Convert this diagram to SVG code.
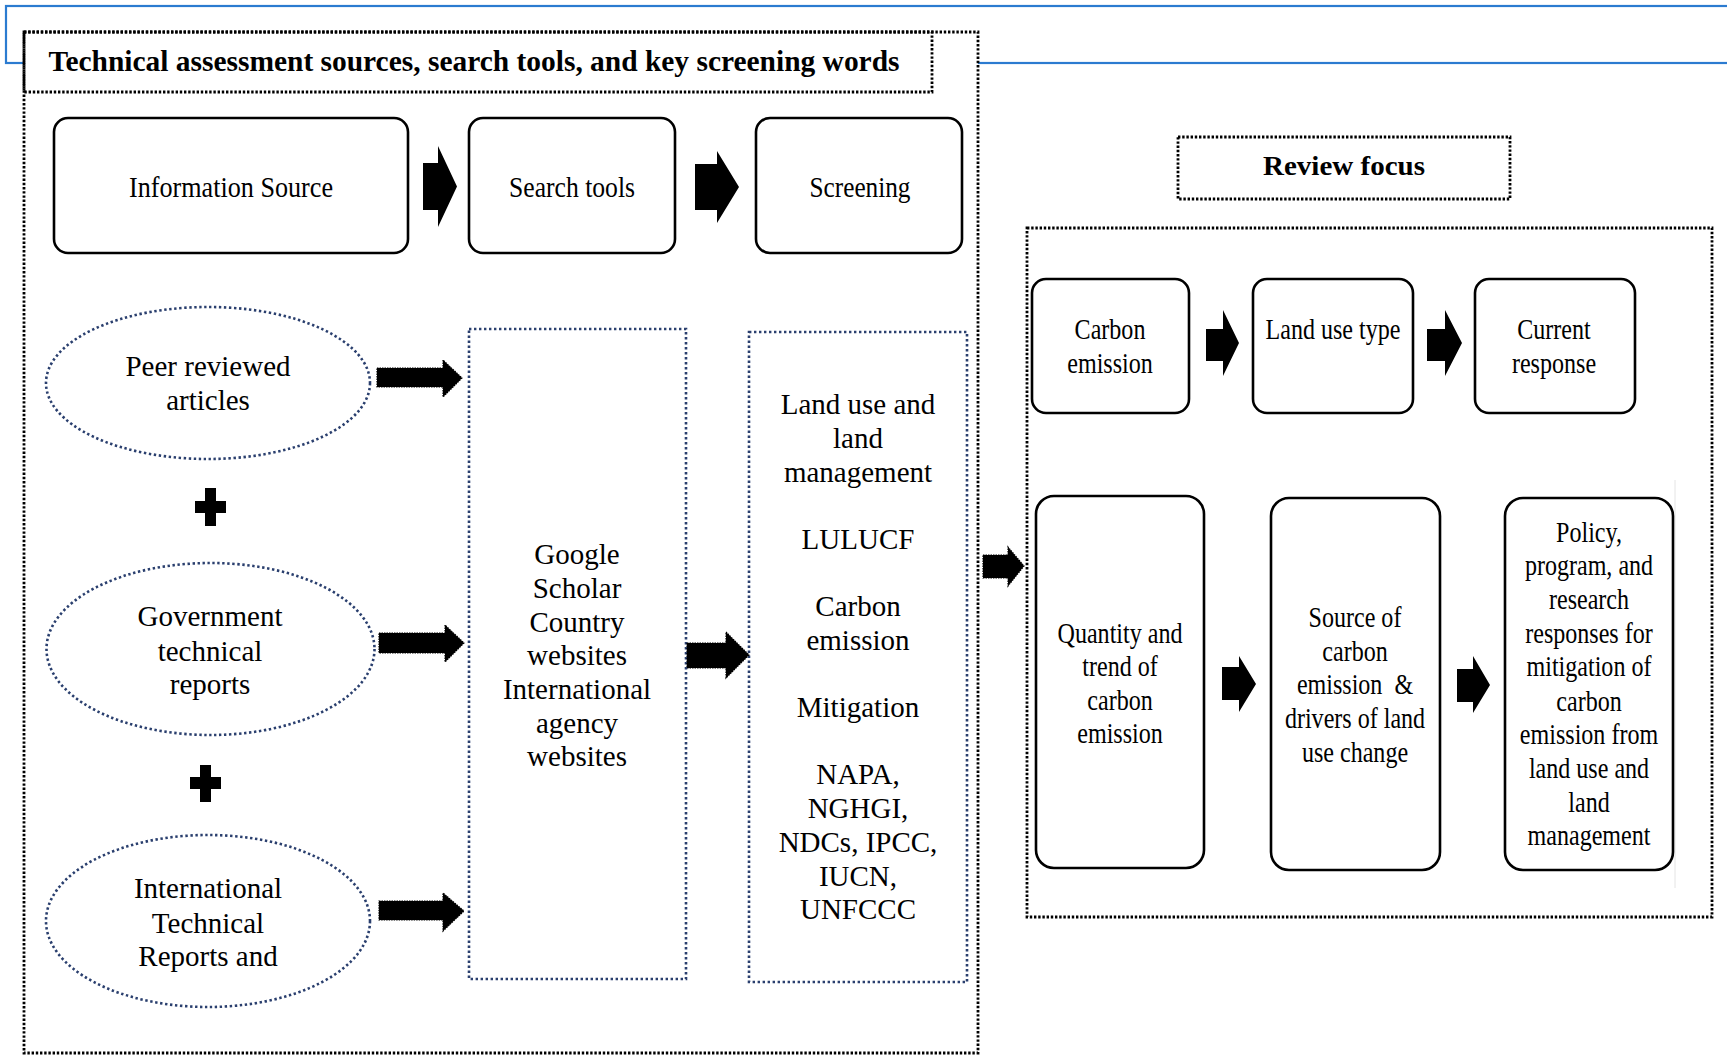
<svg xmlns="http://www.w3.org/2000/svg" width="1727" height="1056" viewBox="0 0 1727 1056">
<style>
.bg{fill:#fff}
.blue{fill:none;stroke:#2b7bd0;stroke-width:2.2}
.dotbk{fill:#fff;stroke:#000;stroke-width:2.8;stroke-dasharray:2.4 1.8}
.dotbk2{fill:none;stroke:#000;stroke-width:2.8;stroke-dasharray:2.4 1.8}
.dotnv{fill:none;stroke:#2a3f6e;stroke-width:2.6;stroke-dasharray:2.4 2.6}
.rbox{fill:#fff;stroke:#000;stroke-width:2.6}
.t{font-family:"Liberation Serif","Times New Roman",serif;font-size:29px;fill:#000;text-anchor:middle}
.tb{font-family:"Liberation Serif","Times New Roman",serif;font-weight:bold;fill:#000;text-anchor:middle}
.tc{font-family:"Liberation Serif","Times New Roman",serif;font-size:29px;fill:#000;text-anchor:middle}
.arr{fill:#000}
.darr{fill:#000;stroke:#000;stroke-width:1.2;stroke-dasharray:1.5 1}
</style>
<rect class="bg" x="0" y="0" width="1727" height="1056"/>
<rect class="blue" x="6" y="6" width="1740" height="57"/>

<g id="left-panel">
  <rect class="dotbk" x="24" y="32" width="954" height="1021"/>
</g>
<g id="title-left">
  <rect class="dotbk2" x="24" y="32" width="908" height="60"/>
  <text class="tb" x="474" y="71" font-size="29.5" textLength="851" lengthAdjust="spacingAndGlyphs">Technical assessment sources, search tools, and key screening words</text>
</g>

<g id="info-source">
  <rect class="rbox" x="54" y="118" width="354" height="135" rx="14"/>
  <text class="tc" x="231" y="197" font-size="31" textLength="204" lengthAdjust="spacingAndGlyphs">Information Source</text>
</g>
<g id="search-tools">
  <rect class="rbox" x="469" y="118" width="206" height="135" rx="14"/>
  <text class="tc" x="572" y="197" font-size="31" textLength="126" lengthAdjust="spacingAndGlyphs">Search tools</text>
</g>
<g id="screening">
  <rect class="rbox" x="756" y="118" width="206" height="135" rx="14"/>
  <text class="tc" x="860" y="197" font-size="31" textLength="101" lengthAdjust="spacingAndGlyphs">Screening</text>
</g>

<g id="peer-reviewed">
  <ellipse class="dotnv" cx="208" cy="383" rx="162" ry="76"/>
  <text class="t" x="208" y="376">Peer reviewed</text>
  <text class="t" x="208" y="410">articles</text>
</g>
<g id="plus-1">
  <rect class="arr" x="205" y="488" width="11" height="38"/>
  <rect class="arr" x="195" y="501" width="31" height="12"/>
</g>
<g id="gov-reports">
  <ellipse class="dotnv" cx="210.5" cy="649" rx="164" ry="86"/>
  <text class="t" x="210" y="626">Government</text>
  <text class="t" x="210" y="661">technical</text>
  <text class="t" x="210" y="694">reports</text>
</g>
<g id="plus-2">
  <rect class="arr" x="200" y="765" width="11" height="37"/>
  <rect class="arr" x="190" y="777" width="31" height="12"/>
</g>
<g id="intl-reports">
  <ellipse class="dotnv" cx="208" cy="921" rx="162" ry="86"/>
  <text class="t" x="208" y="898">International</text>
  <text class="t" x="208" y="933">Technical</text>
  <text class="t" x="208" y="966">Reports and</text>
</g>

<g id="search-list">
  <rect class="dotnv" x="469" y="329" width="217" height="650"/>
  <text class="t" x="577" y="564">Google</text>
  <text class="t" x="577" y="598">Scholar</text>
  <text class="t" x="577" y="632">Country</text>
  <text class="t" x="577" y="665">websites</text>
  <text class="t" x="577" y="699">International</text>
  <text class="t" x="577" y="733">agency</text>
  <text class="t" x="577" y="766">websites</text>
</g>
<g id="screening-list">
  <rect class="dotnv" x="749" y="332" width="218" height="650"/>
  <text class="t" x="858" y="414">Land use and</text>
  <text class="t" x="858" y="448">land</text>
  <text class="t" x="858" y="482">management</text>
  <text class="t" x="858" y="549">LULUCF</text>
  <text class="t" x="858" y="616">Carbon</text>
  <text class="t" x="858" y="650">emission</text>
  <text class="t" x="858" y="717">Mitigation</text>
  <text class="t" x="858" y="784">NAPA,</text>
  <text class="t" x="858" y="818">NGHGI,</text>
  <text class="t" x="858" y="852">NDCs, IPCC,</text>
  <text class="t" x="858" y="886">IUCN,</text>
  <text class="t" x="858" y="919">UNFCCC</text>
</g>

<g id="review-focus-title">
  <rect class="dotbk2" x="1178" y="137" width="332" height="62"/>
  <text class="tb" x="1344" y="175" font-size="28" textLength="162" lengthAdjust="spacingAndGlyphs">Review focus</text>
</g>
<g id="right-panel">
  <rect class="dotbk2" x="1027" y="228" width="685" height="689"/>
  <line x1="1675" y1="480" x2="1675" y2="888" stroke="#e4e4e4" stroke-width="1"/>
</g>

<g id="carbon-emission">
  <rect class="rbox" x="1032" y="279" width="157" height="134" rx="14"/>
  <g transform="translate(1110,0) scale(0.83,1)">
    <text class="tc" x="0" y="339">Carbon</text>
    <text class="tc" x="0" y="373">emission</text>
  </g>
</g>
<g id="land-use-type">
  <rect class="rbox" x="1253" y="279" width="160" height="134" rx="14"/>
  <g transform="translate(1333,0) scale(0.83,1)">
    <text class="tc" x="0" y="339">Land use type</text>
  </g>
</g>
<g id="current-response">
  <rect class="rbox" x="1475" y="279" width="160" height="134" rx="14"/>
  <g transform="translate(1554,0) scale(0.83,1)">
    <text class="tc" x="0" y="339">Current</text>
    <text class="tc" x="0" y="373">response</text>
  </g>
</g>

<g id="quantity-trend">
  <rect class="rbox" x="1036" y="496" width="168" height="372" rx="18"/>
  <g transform="translate(1120,0) scale(0.83,1)">
    <text class="tc" x="0" y="643">Quantity and</text>
    <text class="tc" x="0" y="676">trend of</text>
    <text class="tc" x="0" y="710">carbon</text>
    <text class="tc" x="0" y="743">emission</text>
  </g>
</g>
<g id="source-drivers">
  <rect class="rbox" x="1271" y="498" width="169" height="372" rx="18"/>
  <g transform="translate(1355,0) scale(0.83,1)">
    <text class="tc" x="0" y="627">Source of</text>
    <text class="tc" x="0" y="661">carbon</text>
    <text class="tc" x="0" y="694" xml:space="preserve">emission  &amp;</text>
    <text class="tc" x="0" y="728">drivers of land</text>
    <text class="tc" x="0" y="762">use change</text>
  </g>
</g>
<g id="policy-responses">
  <rect class="rbox" x="1505" y="498" width="168" height="372" rx="18"/>
  <g transform="translate(1589,0) scale(0.83,1)">
    <text class="tc" x="0" y="542">Policy,</text>
    <text class="tc" x="0" y="575">program, and</text>
    <text class="tc" x="0" y="609">research</text>
    <text class="tc" x="0" y="643">responses for</text>
    <text class="tc" x="0" y="676">mitigation of</text>
    <text class="tc" x="0" y="711">carbon</text>
    <text class="tc" x="0" y="744">emission from</text>
    <text class="tc" x="0" y="778">land use and</text>
    <text class="tc" x="0" y="812">land</text>
    <text class="tc" x="0" y="845">management</text>
  </g>
</g>

<g id="connectors">
  <path class="arr" d="M423,163 H438 V146 L457,186.5 L438,227 V210 H423 Z"/>
  <path class="arr" d="M695,164 H717 V151 L739,187 L717,223 V210 H695 Z"/>
  <path class="darr" d="M377,368 H443 V360 L462,378 L443,397 V387 H377 Z"/>
  <path class="darr" d="M379,633 H445 V625 L464,643 L445,662 V653 H379 Z"/>
  <path class="darr" d="M379,901 H443 V893 L464,911 L443,931 V920 H379 Z"/>
  <path class="darr" d="M687,643 H726 V632 L749,655 L726,678 V668 H687 Z"/>
  <path class="darr" d="M983,555 H1008 V547 L1024,566 L1008,586 V578 H983 Z"/>
  <path class="arr" d="M1206,329 H1223 V310 L1239,343 L1223,376 V361 H1206 Z"/>
  <path class="arr" d="M1427,329 H1445 V310 L1462,343 L1445,376 V361 H1427 Z"/>
  <path class="arr" d="M1222,667 H1239 V656 L1256,684 L1239,712 V700 H1222 Z"/>
  <path class="arr" d="M1457,669 H1473 V656 L1490,685 L1473,713 V702 H1457 Z"/>
</g>
</svg>
